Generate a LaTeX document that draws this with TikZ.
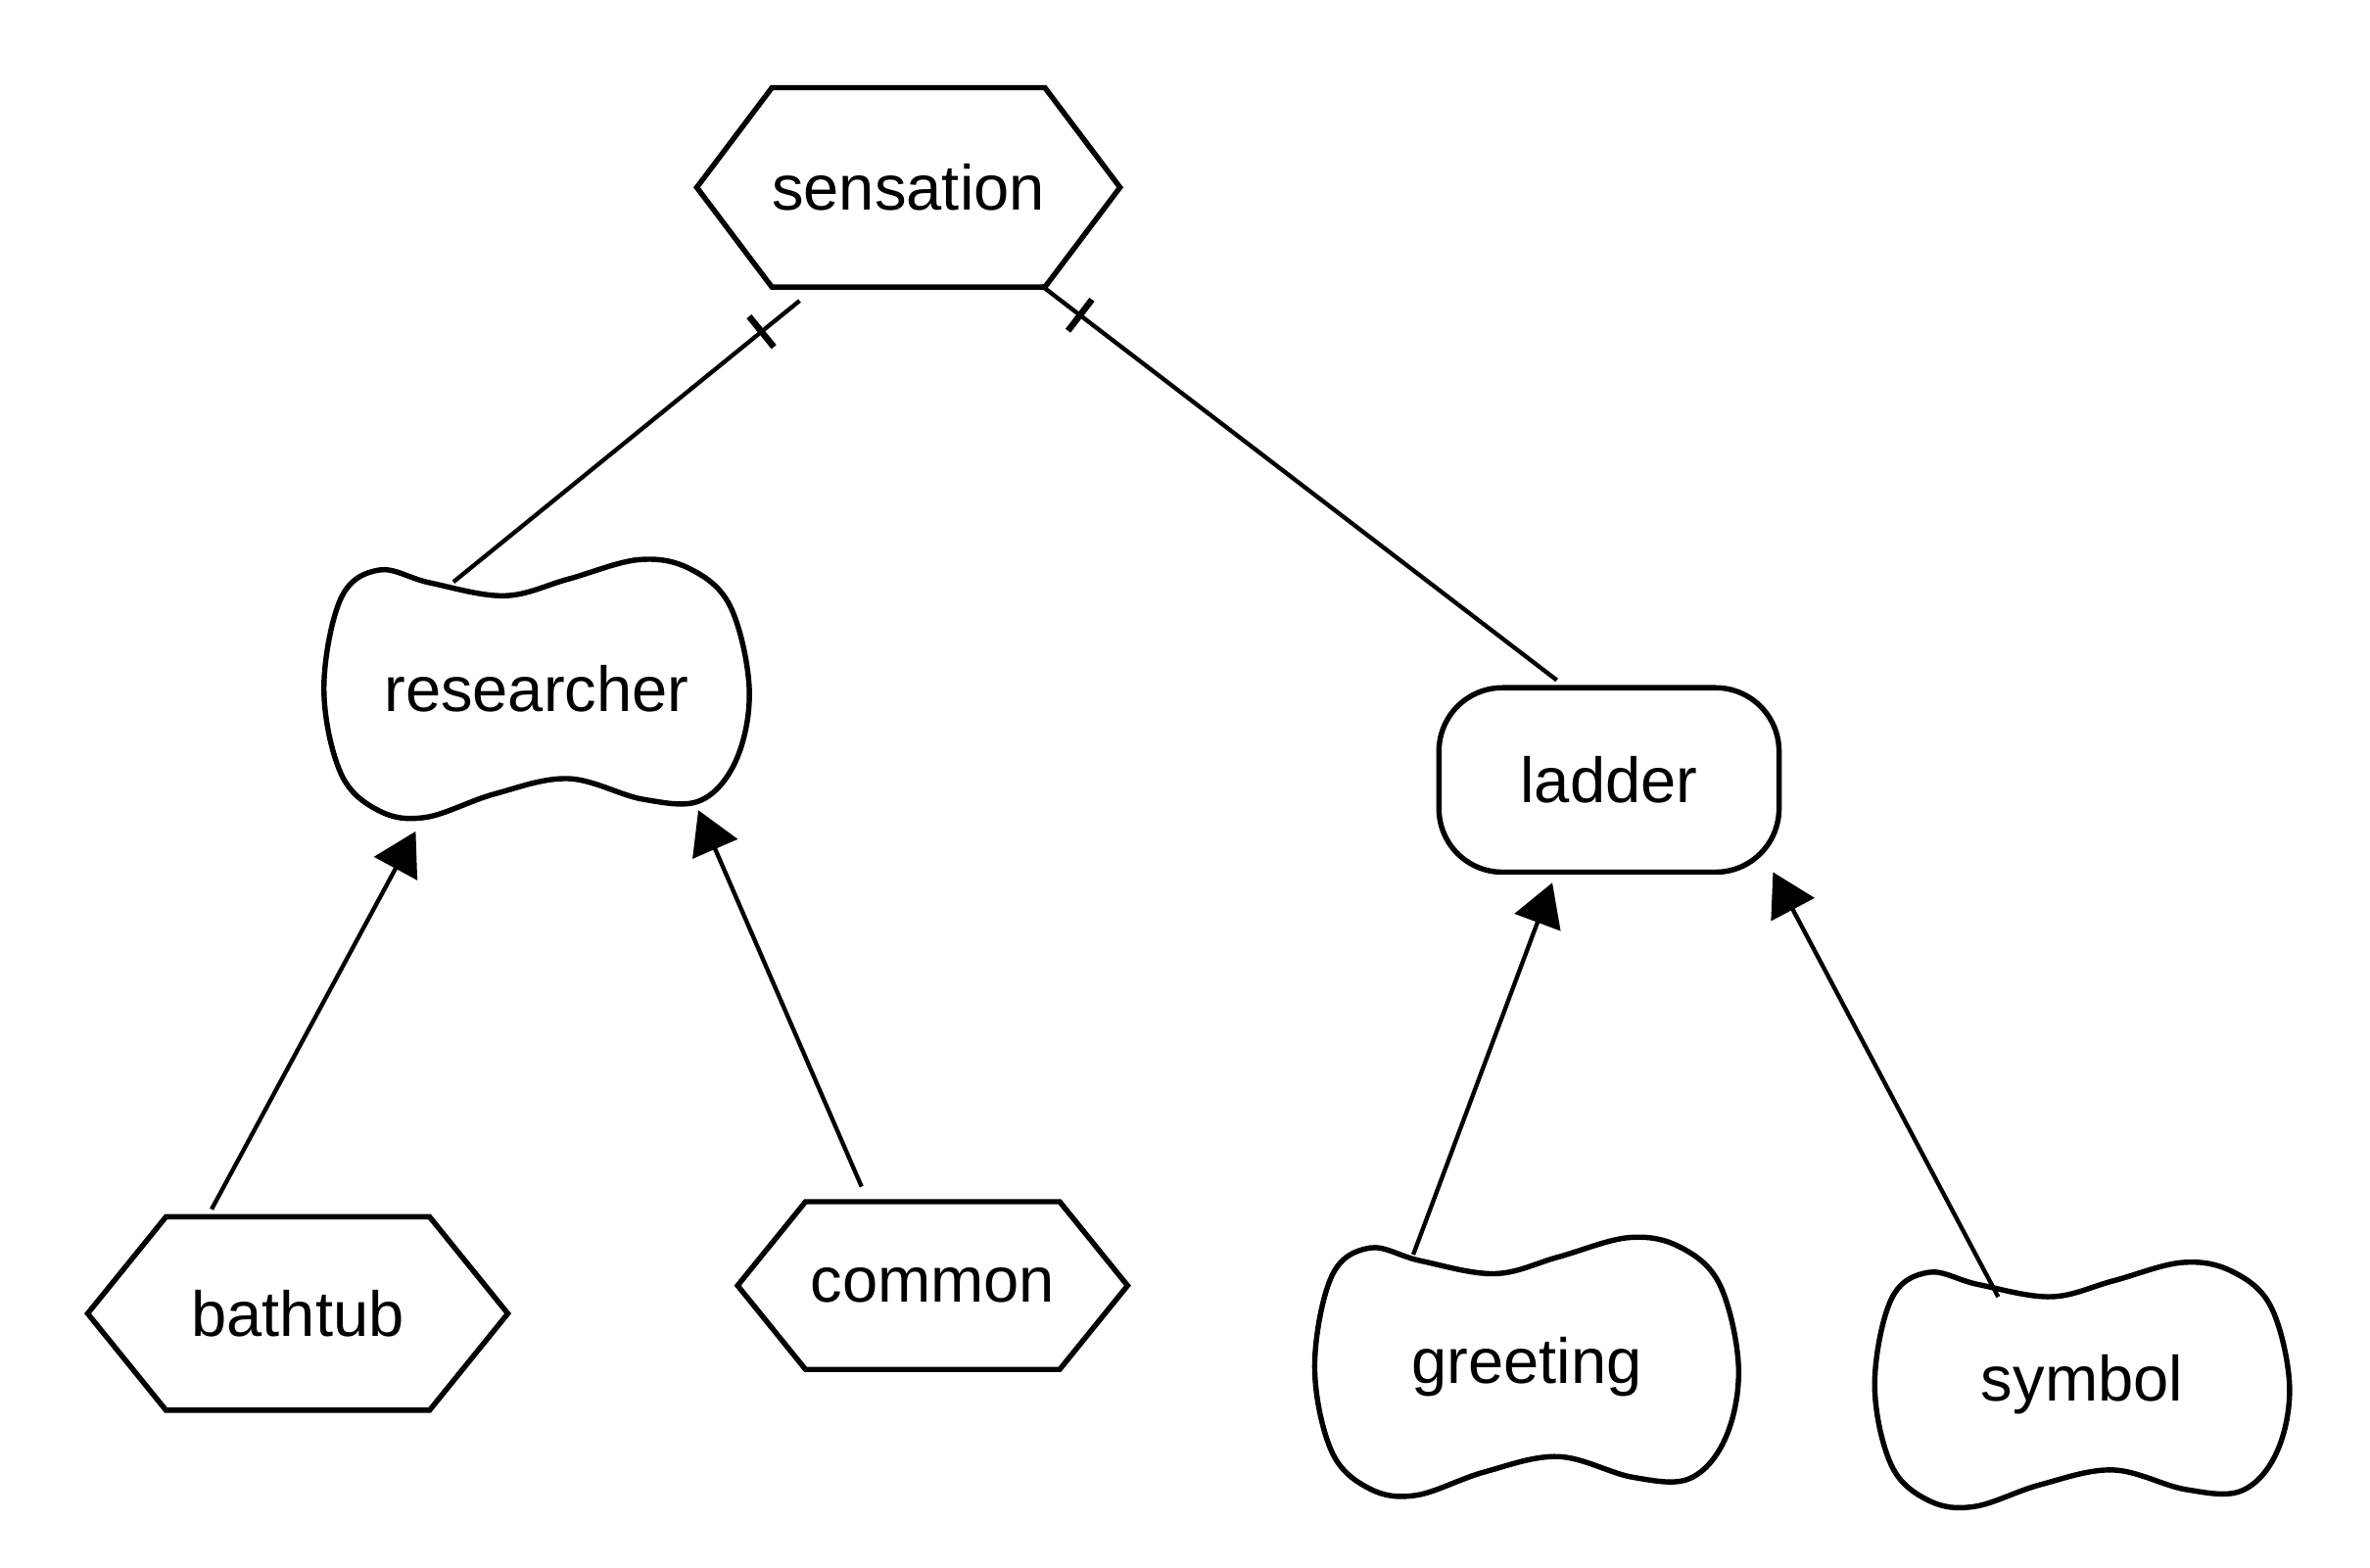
\documentclass[tikz,border=0pt]{standalone}
\usepackage{fontspec}
\setmainfont{Liberation Sans}
\usetikzlibrary{shapes.symbols,arrows.meta,calc,decorations.markings}

\tikzset{
  every node/.style={font=\fontsize{12}{14}\selectfont},
  hexnode/.style={shape=signal, signal to=east and west, signal pointer angle=102,
    draw, line width=1pt, inner xsep=0pt, inner ysep=1pt},
  blobnode/.style={rectangle, inner sep=0pt},
  blobline/.style={line width=1pt},
  roundnode/.style={rectangle, rounded corners=0.42cm, draw, line width=1pt},
  link/.style={line width=0.8pt},
  arr/.style={link, -{Triangle[length=0.28cm, width=0.32cm]}},
  tickend/.style={postaction={decorate}, decoration={markings,
    mark=at position -0.32cm with {\draw[line width=1.2pt] (0,-0.13) -- (0,0.13);}}},
}

% peanut outline round a blob node
\newcommand{\drawblob}[1]{%
  \draw[blobline] let \p1=($(#1.north east)-(#1.center)$), \p2=(#1.center) in
    plot[smooth cycle, tension=0.6] coordinates {
      ({\x2+\x1},{\y2}) ({\x2+0.91*\x1},{\y2+0.64*\y1})
      ({\x2+0.72*\x1},{\y2+0.93*\y1}) ({\x2+0.48*\x1},{\y2+\y1})
      ({\x2+0.15*\x1},{\y2+0.85*\y1}) ({\x2-0.15*\x1},{\y2+0.72*\y1})
      ({\x2-0.5*\x1},{\y2+0.82*\y1}) ({\x2-0.74*\x1},{\y2+0.92*\y1})
      ({\x2-0.92*\x1},{\y2+0.7*\y1}) ({\x2-\x1},{\y2})
      ({\x2-0.92*\x1},{\y2-0.66*\y1}) ({\x2-0.74*\x1},{\y2-0.95*\y1})
      ({\x2-0.52*\x1},{\y2-\y1}) ({\x2-0.2*\x1},{\y2-0.82*\y1})
      ({\x2+0.15*\x1},{\y2-0.7*\y1}) ({\x2+0.5*\x1},{\y2-0.86*\y1})
      ({\x2+0.77*\x1},{\y2-0.87*\y1}) ({\x2+0.94*\x1},{\y2-0.55*\y1})
    };}

\begin{document}
\begin{tikzpicture}
\useasboundingbox (0,0) rectangle (15.68,10.37);

% hexagons
\node[hexnode, signal pointer angle=106, minimum width=2.74cm, minimum height=1.32cm] (sensation) at (6.01,9.13) {sensation};
\node[hexnode, minimum width=2.78cm, minimum height=1.28cm] (bathtub) at (1.97,1.68) {bathtub};
\node[hexnode, minimum width=2.58cm, minimum height=1.11cm] (common) at (6.17,1.865) {common};

% blobs
\node[blobnode, minimum width=2.8cm, minimum height=1.69cm] (researcher) at (3.55,5.815) {researcher};
\node[blobnode, minimum width=2.79cm, minimum height=1.69cm] (greeting) at (10.10,1.33) {greeting};
\node[blobnode, minimum width=2.73cm, minimum height=1.6cm] (symbol) at (13.775,1.21) {symbol};
\drawblob{researcher}
\drawblob{greeting}
\drawblob{symbol}

% rounded box
\node[roundnode, minimum width=2.25cm, minimum height=1.22cm] (ladder) at (10.645,5.21) {ladder};

% links
\draw[link, tickend] ([shift={(-0.55,0.705)}]researcher.center) -- ([shift={(-0.72,-0.75)}]sensation.center);
\draw[link, tickend] ([shift={(-0.345,0.66)}]ladder.center) -- ([shift={(0.88,-0.65)}]sensation.center);

\draw[arr] ([shift={(-0.57,0.69)}]bathtub.center) -- ([shift={(-0.8,-0.945)}]researcher.center);
\draw[arr] ([shift={(-0.47,0.655)}]common.center) -- ([shift={(1.07,-0.805)}]researcher.center);
\draw[arr] ([shift={(-0.75,0.74)}]greeting.center) -- ([shift={(-0.375,-0.68)}]ladder.center);
\draw[arr] ([shift={(-0.555,0.58)}]symbol.center) -- ([shift={(1.085,-0.61)}]ladder.center);
\end{tikzpicture}
\end{document}
